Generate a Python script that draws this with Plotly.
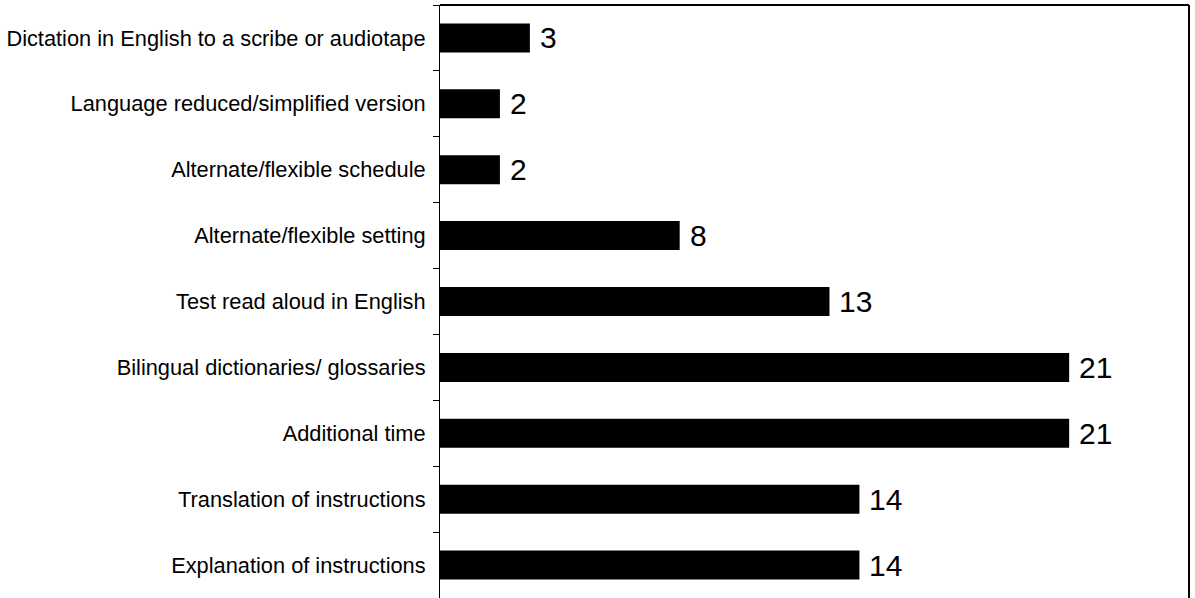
import plotly.graph_objects as go

categories = [
    "Dictation in English to a scribe or audiotape",
    "Language reduced/simplified version",
    "Alternate/flexible schedule",
    "Alternate/flexible setting",
    "Test read aloud in English",
    "Bilingual dictionaries/ glossaries",
    "Additional time",
    "Translation of instructions",
    "Explanation of instructions",
]
values = [3, 2, 2, 8, 13, 21, 21, 14, 14]

fig = go.Figure()
fig.add_trace(go.Bar(
    x=values, y=categories, orientation="h",
    marker=dict(color="#000000", line=dict(width=0)),
    hoverinfo="skip",
))

for c, v in zip(categories, values):
    fig.add_annotation(
        x=v, y=c, xref="x", yref="y", text=str(v), showarrow=False,
        xanchor="left", yanchor="middle", xshift=8,
        font=dict(family="Liberation Sans, Arial, sans-serif", size=30, color="#000000"),
    )

fig.add_shape(type="line", xref="paper", yref="paper", x0=0, x1=1, y0=1, y1=1,
              line=dict(color="#000000", width=2))
fig.add_shape(type="line", xref="paper", yref="paper", x0=1, x1=1, y0=0, y1=1,
              line=dict(color="#000000", width=2))

fig.update_layout(
    width=1195, height=598,
    margin=dict(l=440, r=6, t=5, b=0),
    paper_bgcolor="#ffffff", plot_bgcolor="#ffffff",
    bargap=0.56,
    showlegend=False,
    font=dict(family="Liberation Sans, Arial, sans-serif", size=21.8, color="#000000"),
    xaxis=dict(range=[0, 25], showgrid=False, zeroline=False, showline=False,
               showticklabels=False, ticks=""),
    yaxis=dict(range=[8.5, -0.5], type="category", showgrid=False, zeroline=False,
               showline=True, linecolor="#000000", linewidth=1,
               ticks="outside", tickson="boundaries", ticklen=6, tickcolor="#000000",
               tickwidth=1, ticklabelstandoff=9,
               tickfont=dict(family="Liberation Sans, Arial, sans-serif", size=21.8, color="#000000")),
)

fig.write_html("out.html")
